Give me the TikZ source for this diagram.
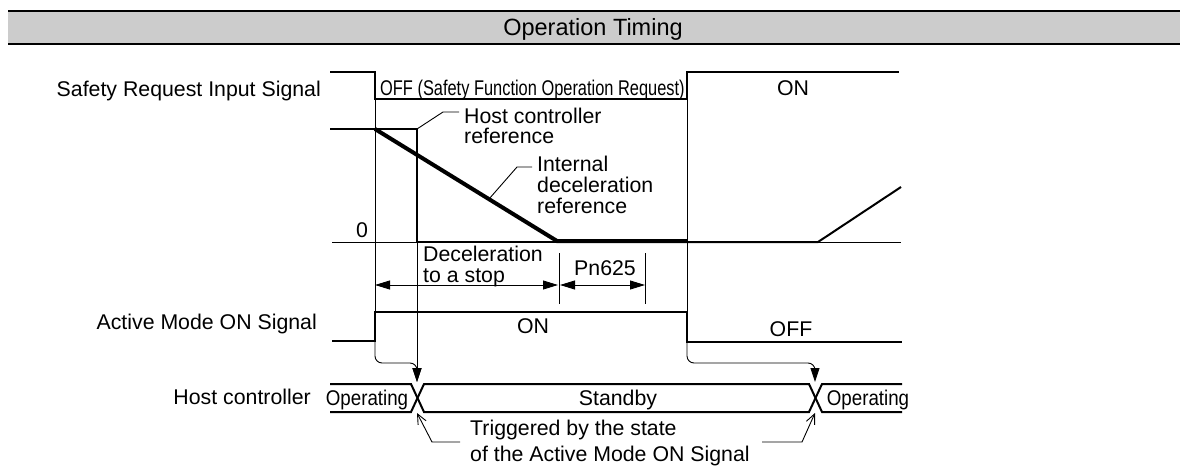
\documentclass[tikz,border=0pt]{standalone}
\usepackage{fontspec}
\setmainfont{Liberation Sans}
\usepackage{graphicx}
\usetikzlibrary{arrows.meta, positioning, calc}
\definecolor{barfill}{RGB}{204,204,204}

\tikzset{
  sig/.style={line width=2pt},
  thinline/.style={line width=0.9pt},
  decel/.style={line width=4pt},
  lbl/.style={inner sep=0pt, font=\fontsize{21.3}{21}\selectfont},
  dimarrow/.style={thinline, {Triangle[length=15pt,width=9pt]}-{Triangle[length=15pt,width=9pt]}},
  trigarrow/.style={thinline, -{Triangle[length=14pt,width=9pt]}, rounded corners=7pt},
  leader/.style={thinline, -{Straight Barb[length=10pt,width=9pt]}}
}

\begin{document}
\begin{tikzpicture}[x=1pt, y=-1pt, every node/.style={lbl}]
  \useasboundingbox (0,0) rectangle (1183,466);

  % title bar
  \fill[barfill] (8,11) rectangle (1180,44);
  \draw[line width=2.5pt] (8,11) -- (1180,11);
  \draw[line width=2.5pt] (8,44) -- (1180,44);
  \node[font=\fontsize{23.5}{24}\selectfont, anchor=base] (title) at (593,35) {Operation Timing};

  % signal names
  \node[anchor=base east] (sreq) at (321,96) {Safety Request Input Signal};
  \node[anchor=base east] (amon) at (317,329) {Active Mode ON Signal};
  \node[anchor=base east] (host) at (311,404) {Host controller};

  % safety request input
  \draw[sig] (330,72) -- (375,72) -- (375,99) -- (687,99) -- (687,72) -- (899,72);
  \node[anchor=base west] (offreq) at (380,95) {\scalebox{0.77}[1]{OFF (Safety Function Operation Request)}};
  \node[anchor=base] (onreq) at (793,95) {ON};
  \draw[thinline] (375,99) -- (375,312);
  \draw[thinline] (687,99) -- (687,312);

  % speed references
  \draw[thinline] (332,242) -- (901,242);
  \node[anchor=base] (zero) at (362,237) {0};
  \draw[sig] (330,129) -- (417,129) -- (417,242) -- (687,242);
  \draw[decel] (375,129) -- (557,241) -- (687,241);
  \draw[sig] (687,242) -- (818,242) -- (901,187);

  \node[anchor=base west, align=left, font=\fontsize{21.3}{20}\selectfont] (hostref) at (464,143) {Host controller\\reference};
  \node[anchor=base west, align=left] (intref) at (537,213) {Internal\\deceleration\\reference};
  \draw[thinline] (417,129) -- (443,112) -- (459,112);
  \draw[thinline] (489,199) -- (517,167) -- (532,167);

  % deceleration time and Pn625
  \draw[thinline] (559,253) -- (559,304);
  \draw[thinline] (645,253) -- (645,304);
  \draw[dimarrow] (375,285) -- (558,285);
  \draw[dimarrow] (560,285) -- (645,285);
  \node[anchor=base west, align=left] (decelt) at (423,282) {Deceleration\\to a stop};
  \node[anchor=base] (pn) at (605,275) {Pn625};

  % active mode ON signal
  \draw[sig] (332,341) -- (375,341) -- (375,312) -- (687,312) -- (687,342) -- (902,342);
  \node[anchor=base] (on) at (533,333) {ON};
  \node[anchor=base] (off) at (791,336) {OFF};

  % host controller state
  \draw[sig] (330,384) -- (411,384) -- (424,412) -- (809,412) -- (822,384) -- (902,384);
  \draw[sig] (330,412) -- (411,412) -- (424,384) -- (809,384) -- (822,412) -- (902,412);
  \node[anchor=base] (op1) at (367,405) {\scalebox{0.88}[1]{Operating}};
  \node[anchor=base] (stby) at (618,405) {Standby};
  \node[anchor=base] (op2) at (868,405) {\scalebox{0.88}[1]{Operating}};

  % triggers
  \draw[thinline, -{Triangle[length=14pt,width=9pt]}] (417,242) -- (417,382);
  \draw[trigarrow] (375,342) |- (417,363) -- (417,382);
  \draw[trigarrow] (687,342) |- (815,363) -- (815,382);
  \draw[leader] (460,442) -- (432,442) -- (417,413);
  \draw[leader] (762,442) -- (802,442) -- (815,413);
  \node[anchor=base west, align=left, font=\fontsize{21.3}{26}\selectfont] (trig) at (470,461) {Triggered by the state\\of the Active Mode ON Signal};
\end{tikzpicture}
\end{document}
